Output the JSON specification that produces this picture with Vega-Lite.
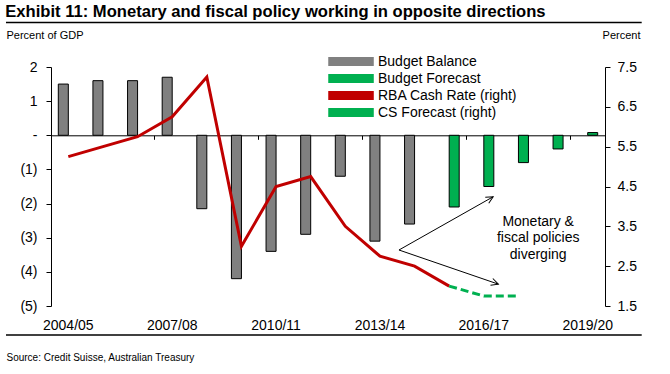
{
  "$schema": "https://vega.github.io/schema/vega-lite/v6.json",
  "width": 554,
  "height": 239,
  "autosize": {"type": "none"},
  "padding": {"left": 51, "top": 67, "right": 65, "bottom": 68},
  "background": "white",
  "config": {
    "view": {"stroke": null},
    "font": "Liberation Sans",
    "axis": {"grid": false, "labelFont": "Liberation Sans", "titleFont": "Liberation Sans", "labelFlush": false, "labelOverlap": false}
  },
  "title": {
    "text": "Exhibit 11: Monetary and fiscal policy working in opposite directions",
    "anchor": "start",
    "frame": "bounds",
    "fontSize": 16.6,
    "fontWeight": "bold",
    "font": "Liberation Sans",
    "color": "black",
    "offset": 1
  },
  "datasets": {
    "budget": [
      {"year": "2004/05", "series": "Budget Balance", "value": 1.5},
      {"year": "2005/06", "series": "Budget Balance", "value": 1.6},
      {"year": "2006/07", "series": "Budget Balance", "value": 1.6},
      {"year": "2007/08", "series": "Budget Balance", "value": 1.7},
      {"year": "2008/09", "series": "Budget Balance", "value": -2.15},
      {"year": "2009/10", "series": "Budget Balance", "value": -4.2},
      {"year": "2010/11", "series": "Budget Balance", "value": -3.4},
      {"year": "2011/12", "series": "Budget Balance", "value": -2.9},
      {"year": "2012/13", "series": "Budget Balance", "value": -1.2},
      {"year": "2013/14", "series": "Budget Balance", "value": -3.1},
      {"year": "2014/15", "series": "Budget Balance", "value": -2.6},
      {"year": "2015/16", "series": "Budget Forecast", "value": -2.1},
      {"year": "2016/17", "series": "Budget Forecast", "value": -1.5},
      {"year": "2017/18", "series": "Budget Forecast", "value": -0.8},
      {"year": "2018/19", "series": "Budget Forecast", "value": -0.4},
      {"year": "2019/20", "series": "Budget Forecast", "value": 0.08}
    ],
    "rba": [
      {"year": "2004/05", "series": "RBA Cash Rate (right)", "rate": 5.25},
      {"year": "2005/06", "series": "RBA Cash Rate (right)", "rate": 5.5},
      {"year": "2006/07", "series": "RBA Cash Rate (right)", "rate": 5.75},
      {"year": "2007/08", "series": "RBA Cash Rate (right)", "rate": 6.25},
      {"year": "2008/09", "series": "RBA Cash Rate (right)", "rate": 7.25},
      {"year": "2009/10", "series": "RBA Cash Rate (right)", "rate": 3.0},
      {"year": "2010/11", "series": "RBA Cash Rate (right)", "rate": 4.5},
      {"year": "2011/12", "series": "RBA Cash Rate (right)", "rate": 4.75},
      {"year": "2012/13", "series": "RBA Cash Rate (right)", "rate": 3.5},
      {"year": "2013/14", "series": "RBA Cash Rate (right)", "rate": 2.75},
      {"year": "2014/15", "series": "RBA Cash Rate (right)", "rate": 2.5},
      {"year": "2015/16", "series": "RBA Cash Rate (right)", "rate": 2.0}
    ],
    "cs": [
      {"year": "2015/16", "series": "CS Forecast (right)", "rate": 2.0},
      {"year": "2016/17", "series": "CS Forecast (right)", "rate": 1.75},
      {"year": "2017/18", "series": "CS Forecast (right)", "rate": 1.75}
    ],
    "arrows": [
      {"x": 10.05, "y": -3.36, "x2": 12.77, "y2": -1.80},
      {"x": 10.05, "y": -3.36, "x2": 12.92, "y2": -4.36}
    ],
    "head1": [{"x": 12.77, "y": -1.80}],
    "head2": [{"x": 12.92, "y": -4.36}],
    "note": [
      {"x": 14.07, "y": -2.53, "text": "Monetary &"},
      {"x": 14.07, "y": -3.02, "text": "fiscal policies"},
      {"x": 14.07, "y": -3.51, "text": "diverging"}
    ],
    "frame": [
      {"x": -1.3, "x2": 17.06, "y": 3.3},
      {"x": -1.3, "x2": 17.06, "y": -5.85}
    ]
  },
  "layer": [
    {
      "data": {"name": "budget"},
      "mark": {"type": "bar", "stroke": "black", "strokeWidth": 1},
      "encoding": {
        "x": {
          "field": "year", "type": "nominal",
          "scale": {"type": "band", "domain": ["2004/05","2005/06","2006/07","2007/08","2008/09","2009/10","2010/11","2011/12","2012/13","2013/14","2014/15","2015/16","2016/17","2017/18","2018/19","2019/20"], "paddingInner": 0, "paddingOuter": 0},
          "axis": {
            "orient": "bottom", "offset": -170.7, "title": null,
            "values": ["2004/05","2007/08","2010/11","2013/14","2016/17","2019/20"],
            "bandPosition": 0, "labelAngle": 0,
            "labelBaseline": "alphabetic", "labelPadding": 190,
            "labelFontSize": 14, "labelColor": "black",
            "tickSize": 4, "tickColor": "black", "domainColor": "black", "domainWidth": 1
          }
        },
        "xOffset": {"field": "series", "scale": {"domain": ["Budget Balance", "Budget Forecast"], "paddingInner": 0, "paddingOuter": 0.73}},
        "y": {
          "field": "value", "type": "quantitative",
          "scale": {"domain": [-5, 2], "nice": false, "zero": false},
          "axis": {
            "orient": "left", "values": [-5,-4,-3,-2,-1,0,1,2],
            "labelExpr": "datum.value == 0 ? '-' : datum.value < 0 ? '(' + abs(datum.value) + ')' : '' + datum.value",
            "title": "Percent of GDP", "titleAngle": 0, "titleAlign": "left", "titleBaseline": "middle",
            "titleX": -45, "titleY": -32, "titleFontSize": 11, "titleFontWeight": "normal", "titleColor": "black",
            "labelFontSize": 14, "labelColor": "black", "labelPadding": 9,
            "tickSize": 5, "tickColor": "black", "domainColor": "black"
          }
        },
        "color": {
          "field": "series", "type": "nominal",
          "scale": {"domain": ["Budget Balance", "Budget Forecast", "RBA Cash Rate (right)", "CS Forecast (right)"], "range": ["#808080", "#00B050", "#C00000", "#00B050"]},
          "legend": {
            "orient": "none", "legendX": 277, "legendY": -15, "title": null, "direction": "vertical", "padding": 0,
            "symbolSize": 289, "symbolType": "M-1,-0.43H4.18V0.43H-1Z",
            "labelFontSize": 14, "labelFont": "Liberation Sans", "labelColor": "black", "labelOffset": 31, "rowPadding": 0, "labelLimit": 300,
            "encode": {"symbols": {"update": {
              "shape": {"signal": "datum.value == 'Budget Balance' || datum.value == 'Budget Forecast' ? 'M-1,-0.43H4.18V0.43H-1Z' : 'M-1,0H4.18'"},
              "fill": {"signal": "datum.value == 'Budget Balance' ? '#808080' : datum.value == 'Budget Forecast' ? '#00B050' : 'transparent'"},
              "stroke": {"signal": "datum.value == 'Budget Balance' || datum.value == 'Budget Forecast' ? '#000000' : datum.value == 'RBA Cash Rate (right)' ? '#C00000' : '#00B050'"},
              "strokeWidth": {"signal": "datum.value == 'Budget Balance' || datum.value == 'Budget Forecast' ? 1.5 : 3"},
              "strokeDash": {"signal": "datum.value == 'CS Forecast (right)' ? [6,3] : [1,0]"},
              "opacity": {"value": 1}
            }}}
          }
        }
      }
    },
    {
      "layer": [
        {
          "data": {"name": "rba"},
          "mark": {"type": "line", "strokeWidth": 3},
          "encoding": {
            "x": {"field": "year", "type": "nominal", "scale": {"type": "point", "domain": ["2004/05","2005/06","2006/07","2007/08","2008/09","2009/10","2010/11","2011/12","2012/13","2013/14","2014/15","2015/16","2016/17","2017/18","2018/19","2019/20"], "padding": 0.5}, "axis": null},
            "y": {
              "field": "rate", "type": "quantitative",
              "scale": {"domain": [1.5, 7.5], "nice": false, "zero": false},
              "axis": {
                "orient": "right", "values": [1.5,2.5,3.5,4.5,5.5,6.5,7.5], "format": ".1f",
                "title": "Percent", "titleAngle": 0, "titleAlign": "right", "titleBaseline": "middle",
                "titleX": 35, "titleY": -32, "titleFontSize": 11, "titleFontWeight": "normal", "titleColor": "black",
                "labelFontSize": 14, "labelColor": "black", "labelPadding": 7, "labelOverlap": false,
                "tickSize": 5, "tickColor": "black", "domainColor": "black"
              }
            },
            "color": {"field": "series", "type": "nominal", "scale": {"domain": ["Budget Balance", "Budget Forecast", "RBA Cash Rate (right)", "CS Forecast (right)"], "range": ["#808080", "#00B050", "#C00000", "#00B050"]}}
          }
        },
        {
          "data": {"name": "cs"},
          "mark": {"type": "line", "strokeWidth": 3, "strokeDash": [8, 4]},
          "encoding": {
            "x": {"field": "year", "type": "nominal", "axis": null},
            "y": {
              "field": "rate", "type": "quantitative",
              "axis": {
                "orient": "right", "values": [1.5,2.5,3.5,4.5,5.5,6.5,7.5], "format": ".1f",
                "title": "Percent", "titleAngle": 0, "titleAlign": "right", "titleBaseline": "middle",
                "titleX": 35, "titleY": -32, "titleFontSize": 11, "titleFontWeight": "normal", "titleColor": "black",
                "labelFontSize": 14, "labelColor": "black", "labelPadding": 7, "labelOverlap": false,
                "tickSize": 5, "tickColor": "black", "domainColor": "black"
              }
            },
            "color": {"field": "series", "type": "nominal", "scale": {"domain": ["Budget Balance", "Budget Forecast", "RBA Cash Rate (right)", "CS Forecast (right)"], "range": ["#808080", "#00B050", "#C00000", "#00B050"]}}
          }
        }
      ]
    },
    {
      "layer": [
        {
          "data": {"name": "arrows"},
          "mark": {"type": "rule", "color": "black", "strokeWidth": 1},
          "encoding": {
            "x": {
              "field": "x", "type": "quantitative", "scale": {"domain": [0, 16], "nice": false, "zero": false},
              "axis": {
                "orient": "bottom", "domain": false, "ticks": false, "labels": false,
                "title": "Source: Credit Suisse, Australian Treasury", "titleAlign": "left", "titleAnchor": null,
                "titleX": -45, "titleY": 51.5, "titleBaseline": "middle",
                "titleFontSize": 10, "titleFontWeight": "normal", "titleColor": "black"
              }
            },
            "y": {"field": "y", "type": "quantitative", "scale": {"domain": [-5, 2], "nice": false, "zero": false}, "axis": null},
            "x2": {"field": "x2"},
            "y2": {"field": "y2"}
          }
        },
        {
          "data": {"name": "head1"},
          "mark": {"type": "point", "shape": "M-1,-0.5L0,0L-1,0.5", "filled": false, "stroke": "black", "strokeWidth": 1, "size": 200, "angle": -29.5, "opacity": 1},
          "encoding": {"x": {"field": "x", "type": "quantitative"}, "y": {"field": "y", "type": "quantitative"}}
        },
        {
          "data": {"name": "head2"},
          "mark": {"type": "point", "shape": "M-1,-0.5L0,0L-1,0.5", "filled": false, "stroke": "black", "strokeWidth": 1, "size": 200, "angle": 19, "opacity": 1},
          "encoding": {"x": {"field": "x", "type": "quantitative"}, "y": {"field": "y", "type": "quantitative"}}
        },
        {
          "data": {"name": "note"},
          "mark": {"type": "text", "fontSize": 14, "align": "center", "baseline": "middle", "color": "black", "font": "Liberation Sans"},
          "encoding": {"x": {"field": "x", "type": "quantitative"}, "y": {"field": "y", "type": "quantitative"}, "text": {"field": "text"}}
        },
        {
          "data": {"name": "frame"},
          "mark": {"type": "rule", "color": "black", "strokeWidth": 1.5},
          "encoding": {"x": {"field": "x", "type": "quantitative"}, "x2": {"field": "x2"}, "y": {"field": "y", "type": "quantitative"}}
        }
      ]
    }
  ],
  "resolve": {"scale": {"x": "independent", "y": "independent"}}
}
